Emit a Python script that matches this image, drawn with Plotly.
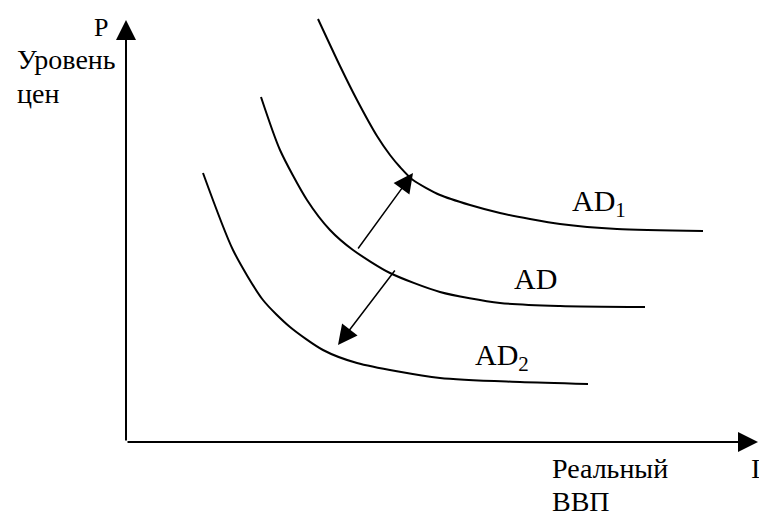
import plotly.graph_objects as go

# Curves (x: real GDP, y: price level), schematic units
ad1_x = [19.2, 21.4, 23.1, 25.1, 26.4, 27.4, 28.7, 31.4, 34.4, 37.4, 40.4, 43.4, 49.1, 57.7]
ad1_y = [42.3, 37.6, 34.2, 30.6, 28.7, 27.5, 26.2, 24.7, 23.7, 22.9, 22.3, 21.8, 21.3, 21.1]

ad_x = [13.5, 15.4, 18.1, 20.4, 22.7, 26.4, 31.4, 37.4, 43.4, 51.9]
ad_y = [34.5, 29.2, 24.2, 21.2, 19.2, 16.9, 15.0, 13.9, 13.6, 13.5]

ad2_x = [7.7, 10.7, 13.7, 16.4, 19.7, 23.1, 31.4, 39.4, 46.2]
ad2_y = [26.9, 19.2, 14.2, 11.5, 9.2, 7.9, 6.4, 6.0, 5.8]

# Shift arrows: (tail_x, tail_y, tip_x, tip_y)
shift_up = [23.1, 19.2, 28.7, 26.9]
shift_down = [27.0, 17.3, 21.2, 9.7]

# Axes extents
x_axis_end = 63.2
y_axis_end = 42.2

curve_labels = ["AD<sub>1</sub>", "AD", "AD<sub>2</sub>"]
label_pos = [(44.4, 23.9), (38.6, 16.4), (34.7, 8.5)]

FONT = "Liberation Serif"

fig = go.Figure()
for xs, ys in [(ad1_x, ad1_y), (ad_x, ad_y), (ad2_x, ad2_y)]:
    fig.add_trace(go.Scatter(x=xs, y=ys, mode="lines",
                             line=dict(color="black", width=2, shape="spline", smoothing=0.7),
                             hoverinfo="skip", showlegend=False))

ann = []
# axes with arrowheads
ann.append(dict(x=0, y=y_axis_end, ax=0, ay=0, xref="x", yref="y", axref="x", ayref="y",
                showarrow=True, arrowhead=2, arrowsize=2, arrowwidth=2, arrowcolor="black", text=""))
ann.append(dict(x=x_axis_end, y=0, ax=0, ay=0, xref="x", yref="y", axref="x", ayref="y",
                showarrow=True, arrowhead=2, arrowsize=2, arrowwidth=2, arrowcolor="black", text=""))
# shift arrows
for tx, ty, hx, hy in [shift_up, shift_down]:
    ann.append(dict(x=hx, y=hy, ax=tx, ay=ty, xref="x", yref="y", axref="x", ayref="y",
                    showarrow=True, arrowhead=2, arrowsize=2.6, arrowwidth=1.5,
                    arrowcolor="black", text=""))

for t, (lx, ly) in zip(curve_labels, label_pos):
    ann.append(dict(x=lx, y=ly, xref="x", yref="y", text=t, showarrow=False,
                    xanchor="left", yanchor="middle", font=dict(family=FONT, size=30, color="black")))

texts = [
    ("P", -2.55, 41.45, "center", 26),
    ("Уровень", -11.1, 38.25, "left", 28),
    ("цен", -11.1, 34.85, "left", 28),
    ("Реальный", 42.4, -2.65, "left", 28),
    ("ВВП", 42.4, -5.95, "left", 28),
    ("I", 62.3, -2.65, "left", 28),
]
for t, lx, ly, xa, fs in texts:
    ann.append(dict(x=lx, y=ly, xref="x", yref="y", text=t, showarrow=False,
                    xanchor=xa, yanchor="middle", font=dict(family=FONT, size=fs, color="black")))

fig.update_layout(
    width=759, height=513,
    margin=dict(l=0, r=0, t=0, b=0),
    paper_bgcolor="white", plot_bgcolor="white",
    xaxis=dict(range=[-12.6, 63.3], visible=False, fixedrange=True),
    yaxis=dict(range=[-7.1, 44.2], visible=False, fixedrange=True),
    annotations=ann,
    font=dict(family=FONT),
)
fig.write_html("out.html", config={"displayModeBar": False},
               post_script="document.body.style.margin='0';document.body.style.overflow='hidden';")
